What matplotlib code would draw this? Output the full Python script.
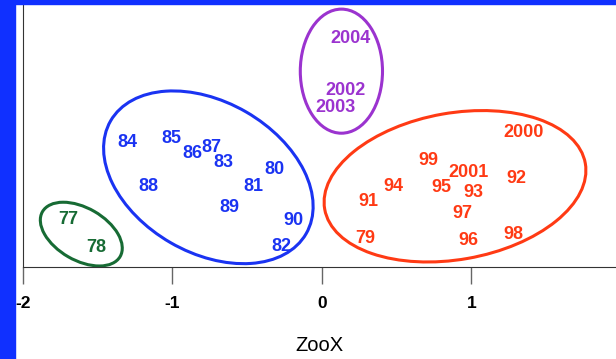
import matplotlib.pyplot as plt
from matplotlib.patches import Ellipse, Rectangle

# year labels and their positions (ZooX, unnamed vertical axis)
green_labels = ['77', '78']
green_x = [-1.70, -1.51]
green_y = [0.32, 0.13]

blue_labels = ['84', '85', '86', '87', '83', '80', '88', '81', '89', '90', '82']
blue_x = [-1.30, -1.01, -0.87, -0.74, -0.66, -0.32, -1.16, -0.46, -0.62, -0.19, -0.27]
blue_y = [0.83, 0.86, 0.76, 0.80, 0.70, 0.65, 0.54, 0.54, 0.40, 0.31, 0.14]

purple_labels = ['2004', '2002', '2003']
purple_x = [0.19, 0.16, 0.09]
purple_y = [1.53, 1.18, 1.07]

red_labels = ['2000', '99', '2001', '92', '94', '95', '93', '91', '97', '79', '96', '98']
red_x = [1.35, 0.71, 0.98, 1.30, 0.48, 0.80, 1.01, 0.31, 0.94, 0.29, 0.98, 1.28]
red_y = [0.90, 0.71, 0.63, 0.59, 0.54, 0.53, 0.50, 0.44, 0.36, 0.19, 0.18, 0.22]

# cluster ellipses: center x, center y, width, height, angle
green_ell = (-1.61, 0.22, 0.60, 0.35, -30)
blue_ell = (-0.76, 0.60, 1.51, 1.01, -30)
purple_ell = (0.13, 1.31, 0.55, 0.83, 0)
red_ell = (0.89, 0.54, 1.77, 0.98, 10)

xticks = [-2, -1, 0, 1]

groups = [
    (green_labels, green_x, green_y, green_ell, '#176b34'),
    (blue_labels, blue_x, blue_y, blue_ell, '#1a33f2'),
    (purple_labels, purple_x, purple_y, purple_ell, '#9b33cf'),
    (red_labels, red_x, red_y, red_ell, '#ff3a14'),
]

plt.rcParams['font.family'] = ['Liberation Sans', 'DejaVu Sans']

fig = plt.figure(figsize=(6.16, 3.59), dpi=100)
ax = fig.add_axes([23 / 616, 92 / 359, 593 / 616, 267 / 359])

for labels, xs, ys, ell, color in groups:
    for lab, x, y in zip(labels, xs, ys):
        ax.text(x, y, lab, color=color, fontsize=13, fontweight='bold',
                ha='center', va='center')
    cx, cy, w, h, ang = ell
    ax.add_patch(Ellipse((cx, cy), w, h, angle=ang, fill=False,
                         edgecolor=color, linewidth=2.2))

ax.set_xlim(-2, 1.967)
ax.set_ylim(0, 1.786)
ax.set_xticks(xticks)
ax.set_xticklabels([str(t) for t in xticks], fontsize=12.5, fontweight='bold')
ax.set_yticks([])
ax.tick_params(axis='x', direction='out', length=12, width=1, color='#666666', pad=9)
for side in ['top', 'right']:
    ax.spines[side].set_visible(False)
ax.spines['left'].set_color('#333333')
ax.spines['bottom'].set_color('#333333')
ax.set_xlabel('ZooX', fontsize=14.5, labelpad=18)

# blue frame strips
fig.patches.append(Rectangle((0, 0), 15 / 616, 1, transform=fig.transFigure,
                             color='#1030ff', zorder=10))
fig.patches.append(Rectangle((0, 1 - 4 / 359), 1, 4 / 359, transform=fig.transFigure,
                             color='#1030ff', zorder=10))

fig.savefig('out.png', dpi=100)
